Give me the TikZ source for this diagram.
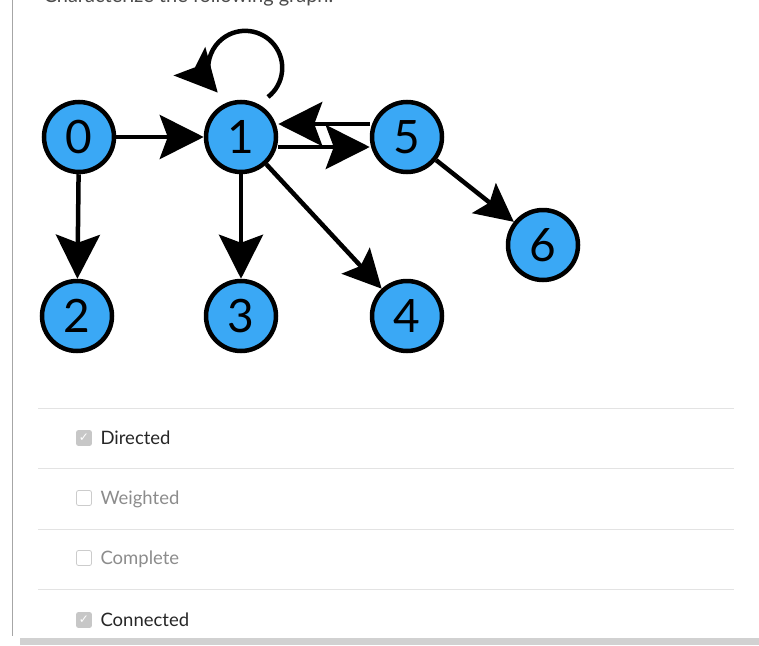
\documentclass[tikz,border=0pt]{standalone}
\usepackage{fontspec}
\setmainfont{Lato}
\newfontfamily\symf{DejaVu Sans}
\usetikzlibrary{arrows.meta}
\definecolor{nodeblue}{HTML}{3AA8F5}
\definecolor{sep}{HTML}{E3E3E3}
\begin{document}
\begin{tikzpicture}[x=1pt,y=-1pt,
  vert/.style={circle,draw=black,line width=4.5pt,fill=nodeblue,minimum size=70pt,inner sep=0pt,font=\fontsize{46}{46}\selectfont},
  edge/.style={line width=4.5pt,-{Stealth[length=44pt,width=44pt,inset=8pt]}},
  sedge/.style={line width=4.5pt,-{Stealth[length=38pt,width=38pt,inset=7pt]}},
  box/.style={draw=black!20,fill=white,rounded corners=2pt,line width=0.8pt,minimum size=15pt,inner sep=0pt},
  cbox/.style={box,fill=black!22,draw=black!22},
  lbl/.style={anchor=west,font=\fontsize{18.5}{18.5}\selectfont}]
\useasboundingbox (0,0) rectangle (759,645);
\begin{scope}
\clip (0,0) rectangle (759,645);
\node[anchor=base west,font=\fontsize{20}{20}\selectfont,text=black!70] (title) at (40,2) {Characterize the following graph.};
\end{scope}
\draw[black!35,line width=0.8pt] (12,0) -- (12,636);
\fill[black!18] (20,638) rectangle (759,645);
\node[vert] (n0) at (79,137) {0};
\node[vert] (n1) at (241,137) {1};
\node[vert] (n5) at (407,137) {5};
\node[vert] (n6) at (543,245) {6};
\node[vert] (n2) at (77,316) {2};
\node[vert] (n3) at (241,316) {3};
\node[vert] (n4) at (407,316) {4};
\draw[edge] (n0) -- (n1);
\draw[edge] ([yshift=-10pt]n1.east) -- ([yshift=-10pt]n5.west);
\draw[edge] ([yshift=13pt]n5.west) -- ([yshift=13pt]n1.east);
\draw[edge] (n0) -- (n2);
\draw[edge] (n1) -- (n3);
\draw[sedge] (n1) -- (n4);
\draw[sedge] (n5) -- (n6);
\draw[line width=4.5pt,-{Stealth[length=42pt,width=42pt,inset=8pt]}] (268,97) arc[start angle=52,end angle=-222,radius=37];
\foreach \y in {408,468,529,589} \draw[sep,line width=0.8pt] (38,\y) -- (734,\y);
\node[cbox] (b1) at (84,438) {}; \node[text=white,font=\symf\fontsize{12}{12}\selectfont] at (b1) {✓};
\node[box] (b2) at (84,498) {};
\node[box] (b3) at (84,558) {};
\node[cbox] (b4) at (84,620) {}; \node[text=white,font=\symf\fontsize{12}{12}\selectfont] at (b4) {✓};
\node[lbl,text=black!85] (l1) at (97,438) {Directed};
\node[lbl,text=black!45] (l2) at (97,499) {Weighted};
\node[lbl,text=black!45] (l3) at (97,559) {Complete};
\node[lbl,text=black!85] (l4) at (97,620) {Connected};
\end{tikzpicture}
\end{document}
